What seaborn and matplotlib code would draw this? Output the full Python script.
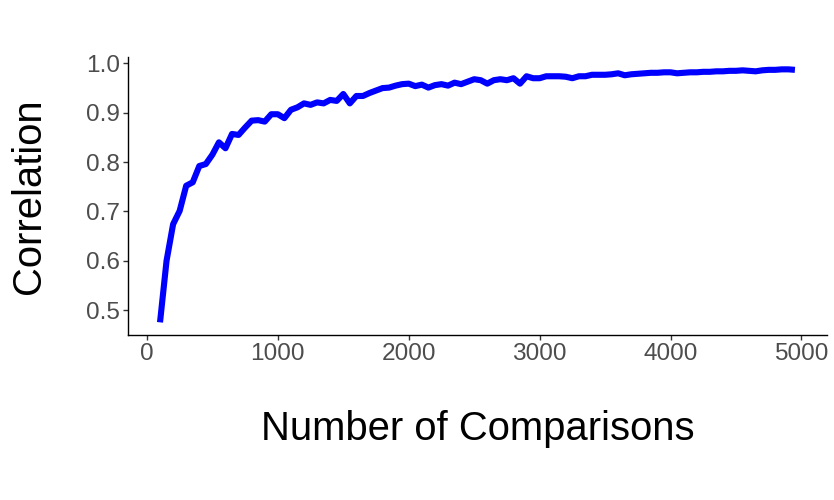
import matplotlib
matplotlib.use("Agg")
import matplotlib.pyplot as plt
import seaborn as sns
import pandas as pd

# number of comparisons, every 50 from 100 to 4950
comparisons = list(range(100, 5000, 50))

# correlation
correlation = [
    0.475, 0.600, 0.674, 0.701, 0.752, 0.759, 0.792, 0.796, 0.815, 0.840,
    0.828, 0.857, 0.855, 0.870, 0.884, 0.885, 0.882, 0.897, 0.897, 0.889,
    0.906, 0.911, 0.919, 0.916, 0.921, 0.919, 0.926, 0.924, 0.938, 0.919,
    0.934, 0.934, 0.940, 0.945, 0.950, 0.951, 0.955, 0.958, 0.959, 0.954,
    0.957, 0.951, 0.956, 0.958, 0.955, 0.961, 0.958, 0.963, 0.968, 0.966,
    0.959, 0.966, 0.968, 0.966, 0.970, 0.959, 0.974, 0.970, 0.970, 0.974,
    0.974, 0.974, 0.973, 0.970, 0.974, 0.974, 0.977, 0.977, 0.977, 0.978,
    0.980, 0.976, 0.978, 0.979, 0.980, 0.981, 0.981, 0.982, 0.982, 0.980,
    0.981, 0.982, 0.982, 0.983, 0.983, 0.984, 0.984, 0.985, 0.985, 0.986,
    0.985, 0.984, 0.986, 0.987, 0.987, 0.988, 0.988, 0.987,
]

x_ticks = [0, 1000, 2000, 3000, 4000, 5000]
y_ticks = [0.5, 0.6, 0.7, 0.8, 0.9, 1.0]

df = pd.DataFrame({"comparisons": comparisons, "correlation": correlation})

sns.set_style("ticks")
plt.rcParams['font.family'] = ['Liberation Sans', 'DejaVu Sans']

fig = plt.figure(figsize=(8.34, 5.0), dpi=100)
ax = fig.add_axes([0.1538, 0.33, 0.8374, 0.5566])

sns.lineplot(data=df, x="comparisons", y="correlation", ax=ax,
             color="#0000FF", linewidth=4.4, solid_capstyle="butt")

# ggplot style 5% expansion
xr = comparisons[-1] - comparisons[0]
ax.set_xlim(comparisons[0] - 0.05 * xr, comparisons[-1] + 0.05 * xr)
yr = max(correlation) - min(correlation)
ax.set_ylim(min(correlation) - 0.05 * yr, max(correlation) + 0.05 * yr)

ax.set_xticks(x_ticks)
ax.set_yticks(y_ticks)
ax.set_yticklabels([f"{v:.1f}" for v in y_ticks])

sns.despine(ax=ax)
for s in ["left", "bottom"]:
    ax.spines[s].set_linewidth(1.0)
    ax.spines[s].set_color("black")

ax.tick_params(axis="both", labelsize=17.6, labelcolor="#4D4D4D",
               color="#333333", length=3.5, width=1.0)
ax.tick_params(axis="x", pad=2)
ax.tick_params(axis="y", pad=2.2)

ax.set_xlabel("Number of Comparisons", fontsize=28.8, color="black", labelpad=33)
ax.set_ylabel("Correlation", fontsize=28.8, color="black", labelpad=27.5)

fig.savefig("out.png", dpi=100, facecolor="white")
